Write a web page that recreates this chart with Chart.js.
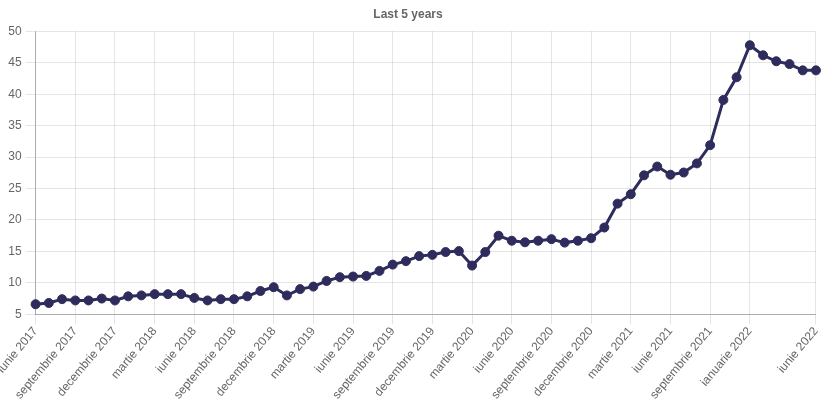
<!DOCTYPE html>
<html>
<head>
<meta charset="utf-8">
<script src="https://cdn.jsdelivr.net/npm/chart.js@4/dist/chart.umd.min.js"></script>
<style>
  body { margin: 0; background: #fff; }
  .wrap { width: 827px; height: 404px; position: relative; }
</style>
</head>
<body>
<div class="wrap"><canvas id="chart"></canvas></div>
<script>
const months = [
  'iunie 2017', 'iulie 2017', 'august 2017', 'septembrie 2017', 'octombrie 2017', 'noiembrie 2017',
  'decembrie 2017', 'ianuarie 2018', 'februarie 2018', 'martie 2018', 'aprilie 2018', 'mai 2018',
  'iunie 2018', 'iulie 2018', 'august 2018', 'septembrie 2018', 'octombrie 2018', 'noiembrie 2018',
  'decembrie 2018', 'ianuarie 2019', 'februarie 2019', 'martie 2019', 'aprilie 2019', 'mai 2019',
  'iunie 2019', 'iulie 2019', 'august 2019', 'septembrie 2019', 'octombrie 2019', 'noiembrie 2019',
  'decembrie 2019', 'ianuarie 2020', 'februarie 2020', 'martie 2020', 'aprilie 2020', 'mai 2020',
  'iunie 2020', 'iulie 2020', 'august 2020', 'septembrie 2020', 'octombrie 2020', 'noiembrie 2020',
  'decembrie 2020', 'ianuarie 2021', 'februarie 2021', 'martie 2021', 'aprilie 2021', 'mai 2021',
  'iunie 2021', 'iulie 2021', 'august 2021', 'septembrie 2021', 'octombrie 2021', 'noiembrie 2021',
  'ianuarie 2022', 'februarie 2022', 'martie 2022', 'aprilie 2022', 'mai 2022', 'iunie 2022'
];

const values = [
  6.6, 6.8, 7.4, 7.2, 7.2, 7.5, 7.2, 7.85, 8.0, 8.2, 8.2, 8.2,
  7.6, 7.2, 7.4, 7.4, 7.85, 8.7, 9.3, 8.0, 9.0, 9.4, 10.3, 10.9,
  11.0, 11.1, 11.9, 12.9, 13.45, 14.25, 14.45, 14.9, 15.05, 12.75, 14.9, 17.5,
  16.7, 16.45, 16.7, 16.95, 16.4, 16.7, 17.1, 18.8, 22.6, 24.1, 27.1, 28.5,
  27.2, 27.55, 29.0, 31.9, 39.1, 42.7, 47.8, 46.2, 45.25, 44.8, 43.8, 43.8
];

const yMin = 5;
const yMax = 50;
const yStep = 5;

const lineColor = '#2d2c5c';
const textColor = '#666';
const gridColor = 'rgba(0,0,0,0.1)';
const axisColor = 'rgba(0,0,0,0.25)';

Chart.defaults.font.family = "'Liberation Sans', Arial, sans-serif";
Chart.defaults.font.size = 12;
Chart.defaults.color = textColor;

const ctx = document.getElementById('chart');
new Chart(ctx, {
  type: 'line',
  data: {
    labels: months,
    datasets: [{
      data: values,
      borderColor: lineColor,
      backgroundColor: lineColor,
      pointBackgroundColor: lineColor,
      pointBorderColor: lineColor,
      pointRadius: 4.5,
      pointBorderWidth: 1,
      borderWidth: 3,
      tension: 0,
      fill: false,
    }],
  },
  options: {
    responsive: true,
    maintainAspectRatio: false,
    animation: false,
    layout: {
      padding: { left: 0, right: 11, top: 0, bottom: 2 },
    },
    plugins: {
      legend: { display: false },
      tooltip: { enabled: false },
      title: {
        display: true,
        text: 'Last 5 years',
        color: textColor,
        font: { size: 12, weight: 'bold' },
        padding: { top: 7, bottom: 10 },
      },
    },
    scales: {
      x: {
        grid: {
          color: gridColor,
          tickLength: 10,
        },
        border: { color: axisColor },
        ticks: {
          autoSkip: false,
          minRotation: 50,
          maxRotation: 50,
          padding: 0,
          callback: function (val, index) {
            const n = months.length;
            if (index === n - 1) return months[index];
            if (index % 3 === 0 && index + 3 < n) return months[index];
            return null;
          },
        },
      },
      y: {
        min: yMin,
        max: yMax,
        grid: {
          color: gridColor,
          tickLength: 10,
        },
        border: { color: axisColor },
        ticks: {
          stepSize: yStep,
          padding: 4,
        },
      },
    },
  },
});
</script>
</body>
</html>
